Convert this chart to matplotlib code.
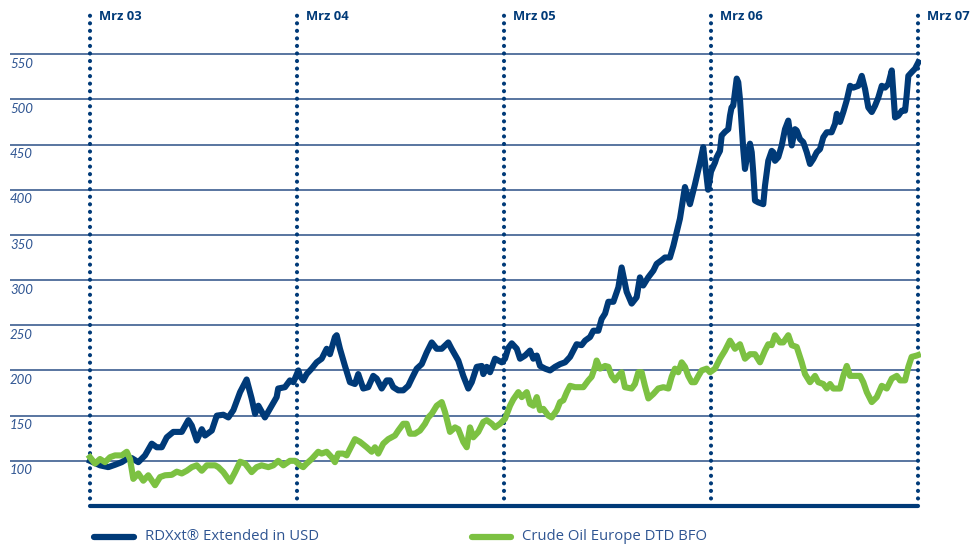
import matplotlib
matplotlib.use("Agg")
import matplotlib.pyplot as plt
from matplotlib.lines import Line2D

# ---- data (x = months since March 2003) ----
rdx_months = [0.0, 0.58, 1.06, 1.45, 1.84, 2.13, 2.42, 2.80, 3.19, 3.58, 3.87, 4.16, 4.45, 4.83, 5.32,
              5.70, 5.90, 6.19, 6.48, 6.67, 7.06, 7.35, 7.73, 8.02, 8.31, 8.70, 9.08, 9.37, 9.57, 9.76,
              10.14, 10.53, 10.82, 10.91, 11.30, 11.59, 11.79, 12.08, 12.17, 12.36, 12.56, 12.85, 13.14,
              13.43, 13.72, 13.91, 14.20, 14.30, 14.49, 14.78, 15.07, 15.36, 15.55, 15.84, 16.13, 16.42,
              16.62, 16.91, 17.20, 17.39, 17.58, 17.87, 18.16, 18.45, 18.65, 18.94, 19.23, 19.52, 19.81,
              20.10, 20.39, 20.77, 20.96, 21.35, 21.64, 21.93, 22.13, 22.42, 22.71, 22.80, 23.00, 23.19,
              23.48, 23.67, 23.87, 24.06, 24.25, 24.45, 24.74, 24.93, 25.22, 25.51, 25.70, 25.90, 26.09,
              26.38, 26.67, 26.96, 27.25, 27.54, 27.83, 28.02, 28.21, 28.50, 28.70, 28.99, 29.18, 29.47,
              29.66, 29.86, 30.05, 30.34, 30.63, 30.82, 31.11, 31.40, 31.69, 31.88, 32.07, 32.36, 32.66,
              32.85, 33.14, 33.33, 33.62, 33.82, 34.01, 34.20, 34.49, 34.78, 35.07, 35.36, 35.55, 35.83,
              36.00, 36.23, 36.33, 36.52, 36.62, 36.81, 37.00, 37.10, 37.19, 37.29, 37.39, 37.49, 37.58,
              37.68, 37.78, 37.87, 37.97, 38.07, 38.26, 38.36, 38.45, 38.55, 38.74, 39.03, 39.13, 39.32,
              39.52, 39.61, 39.71, 39.90, 40.10, 40.29, 40.48, 40.68, 40.87, 40.97, 41.16, 41.35, 41.55,
              41.74, 41.93, 42.13, 42.32, 42.51, 42.71, 42.99, 43.19, 43.29, 43.48, 43.67, 43.87, 44.06,
              44.25, 44.54, 44.74, 44.93, 45.12, 45.32, 45.51, 45.70, 45.90, 46.09, 46.28, 46.48, 46.67,
              46.86, 47.06, 47.25, 47.34, 47.44, 47.63, 47.83, 48.02]
rdx_values = [100, 95, 93, 95.6, 98.5, 102, 103, 98.5, 106, 119, 115, 115, 126, 132, 132,
              145, 139, 122.5, 135, 128, 133.5, 150, 151, 148, 156, 176, 190, 169, 152, 161,
              148, 161, 170.5, 180, 181.5, 189, 187, 200, 194, 189, 196, 202, 209,
              213, 224, 218, 237, 239, 224, 205, 187, 185, 196, 180, 181.5, 194,
              191, 180, 189, 189, 181.5, 178, 178, 183, 191, 202, 207, 220, 231,
              224, 224, 231, 224, 211, 194, 180, 187, 204, 205, 196, 204, 198,
              213, 211, 209, 213, 225, 230, 224, 213, 216.5, 222, 213, 216.5, 205,
              202, 200, 204, 207, 209, 215, 222, 229, 228, 233, 237, 244, 244,
              257, 263, 276, 276, 292, 314, 287, 274, 281, 303, 294, 303, 310.5,
              318, 322, 325, 325, 338, 353, 368, 403, 384, 406, 430, 447, 400,
              420, 430, 436, 443, 460, 464, 467, 482, 491, 493, 508, 523, 519,
              500, 471, 445, 423, 434, 451, 441.5, 419, 388, 386, 384, 404.5, 432,
              443, 441.5, 432, 436, 449, 467, 476.5, 449, 467, 465.5, 456, 452.6, 441.5,
              428.5, 434, 441.5, 445, 458, 463.6, 463.6, 473, 484, 475, 486, 499, 515,
              513, 515, 526, 511.5, 491, 486, 493, 502, 515, 513, 517, 532, 480,
              482, 487.5, 487.5, 504, 526, 530, 534, 541]

oil_months = [0.0, 0.29, 0.58, 0.87, 1.16, 1.45, 1.84, 2.13, 2.32, 2.51, 2.80, 3.09, 3.38, 3.77, 4.06,
              4.35, 4.74, 5.03, 5.32, 5.61, 5.90, 6.19, 6.48, 6.77, 7.25, 7.44, 7.73, 8.12, 8.41, 8.70,
              8.99, 9.37, 9.66, 9.95, 10.34, 10.63, 10.91, 11.21, 11.59, 11.88, 12.17, 12.36, 12.56,
              12.85, 13.23, 13.43, 13.72, 14.01, 14.20, 14.39, 14.68, 14.88, 15.17, 15.36, 15.65, 16.04,
              16.33, 16.52, 16.71, 17.00, 17.29, 17.68, 17.87, 18.16, 18.36, 18.55, 18.84, 19.13, 19.42,
              19.61, 19.81, 20.10, 20.39, 20.58, 20.87, 21.16, 21.35, 21.64, 21.84, 21.93, 22.03, 22.22,
              22.51, 22.80, 23.00, 23.29, 23.48, 23.77, 24.06, 24.25, 24.35, 24.54, 24.83, 25.03, 25.32,
              25.51, 25.70, 25.90, 26.09, 26.28, 26.57, 26.76, 27.06, 27.25, 27.44, 27.64, 27.83, 28.12,
              28.60, 28.89, 29.08, 29.28, 29.37, 29.57, 29.86, 30.05, 30.24, 30.43, 30.63, 30.82, 31.01,
              31.40, 31.59, 31.79, 31.98, 32.17, 32.37, 32.66, 32.94, 33.24, 33.53, 33.72, 33.91, 34.10,
              34.30, 34.49, 34.68, 34.88, 35.07, 35.27, 35.46, 35.75, 35.94, 36.23, 36.52, 36.81, 37.10,
              37.39, 37.68, 37.97, 38.26, 38.55, 38.84, 39.13, 39.32, 39.52, 39.71, 40.00, 40.19, 40.48,
              40.68, 40.97, 41.26, 41.45, 41.74, 42.03, 42.22, 42.51, 42.71, 42.90, 43.09, 43.48, 43.67,
              43.87, 44.06, 44.64, 44.83, 45.03, 45.32, 45.61, 45.90, 46.19, 46.48, 46.77, 46.96, 47.25,
              47.44, 47.63, 47.93, 48.0]
oil_values = [104, 97, 102, 98.5, 104, 106, 106, 110, 102, 80, 86, 78, 84, 73, 82,
              84, 84.5, 88, 86, 89, 93, 95, 89, 95, 95, 93, 87.5, 77, 87.5, 99,
              97, 87.5, 93, 95, 93, 95, 100, 95, 100, 100, 95, 93, 97,
              102, 110, 108, 110, 104, 98.5, 108, 108, 106, 117, 124, 121, 115,
              110, 115, 108, 119, 124, 128, 133.5, 141, 141, 130, 130, 133.5, 141,
              148, 152, 161, 165, 154, 132, 137, 135, 121, 115, 126, 137, 126,
              132, 143, 145, 141, 137, 141, 146.5, 156, 161, 168, 176, 170.5, 176,
              163, 161, 170.5, 156, 157.5, 150, 148, 156, 165, 167, 176, 183, 181.5,
              181.5, 189, 193, 204, 211, 202, 205, 204, 194, 189, 194, 198, 181.5,
              180, 185, 198, 198, 183, 169, 174, 180, 181.5, 180, 193, 202, 198,
              209, 204, 194, 187, 187, 194, 200, 202, 198, 202, 213, 222, 233,
              224, 229, 213, 218, 218, 209, 222, 229, 228, 239, 231, 231, 239,
              228, 226, 209, 196, 187, 194, 187, 185, 180, 185, 180, 180, 194,
              205, 194, 194, 187, 176, 165, 170.5, 183, 180, 191, 194, 189, 189,
              204, 215, 216.5, 217]

y_ticks = [100, 150, 200, 250, 300, 350, 400, 450, 500, 550]
x_ticks = [0, 12, 24, 36, 48]
x_labels = ["Mrz 03", "Mrz 04", "Mrz 05", "Mrz 06", "Mrz 07"]
series_names = ["RDXxt\u00ae Extended in USD", "Crude Oil Europe DTD BFO"]

navy = "#003a78"
green = "#7cc142"
grid_c = "#2b4f86"
label_c = "#2f5592"

W, H = 978, 547
fig = plt.figure(figsize=(W / 100, H / 100), dpi=100)
px_left, px_right, px_top, px_bottom = 10, 921, 9, 506
ax = fig.add_axes([px_left / W, 1 - px_bottom / H, (px_right - px_left) / W, (px_bottom - px_top) / H])
m_per_px = 48 / 828.0
ax.set_xlim(-(90 - px_left) * m_per_px, 48 + (px_right - 918) * m_per_px)
ax.set_ylim(50, 600)
for s in ax.spines.values():
    s.set_visible(False)
ax.set_xticks([])
ax.set_yticks([])

# horizontal gridlines
for v in y_ticks:
    ax.axhline(v, xmin=0, xmax=(917 - px_left) / (px_right - px_left), color=grid_c, lw=1.1, zorder=1)
    ax.text(-(90 - px_left) * m_per_px, v - 4, str(v), ha="left", va="top",
            fontsize=9.5, family="Lato", style="italic", color=label_c)

# bottom axis line
ax.plot([x_ticks[0], x_ticks[-1]], [50, 50], color=navy, lw=3.0, solid_capstyle="butt", zorder=2,
        clip_on=False)

# dotted vertical lines + month labels
for xm, lab in zip(x_ticks, x_labels):
    ax.plot([xm, xm], [50, 600], color=navy, lw=3.0, linestyle=(0, (0.01, 1.8)),
            dash_capstyle="round", zorder=3, clip_on=False)
    ax.text(xm + 0.55, 592, lab, ha="left", va="center", fontsize=9.4, fontweight="bold",
            family="Open Sans", color=navy, clip_on=False)

# data lines
ax.plot(rdx_months, rdx_values, color=navy, lw=4.4, solid_joinstyle="round", zorder=4)
ax.plot(oil_months, oil_values, color=green, lw=4.4, solid_joinstyle="round", zorder=5)

# legend (manual)
ly = 1 - 537 / H
fig.add_artist(Line2D([94 / W, 134 / W], [ly, ly], color=navy, lw=4.5, solid_capstyle="round"))
fig.text(145 / W, ly, series_names[0], ha="left", va="center", fontsize=10.7, family="Open Sans",
         color=label_c)
fig.add_artist(Line2D([472 / W, 511 / W], [ly, ly], color=green, lw=4.5, solid_capstyle="round"))
fig.text(522 / W, ly, series_names[1], ha="left", va="center", fontsize=10.7, family="Open Sans",
         color=label_c)

fig.savefig("out.png", dpi=100)
